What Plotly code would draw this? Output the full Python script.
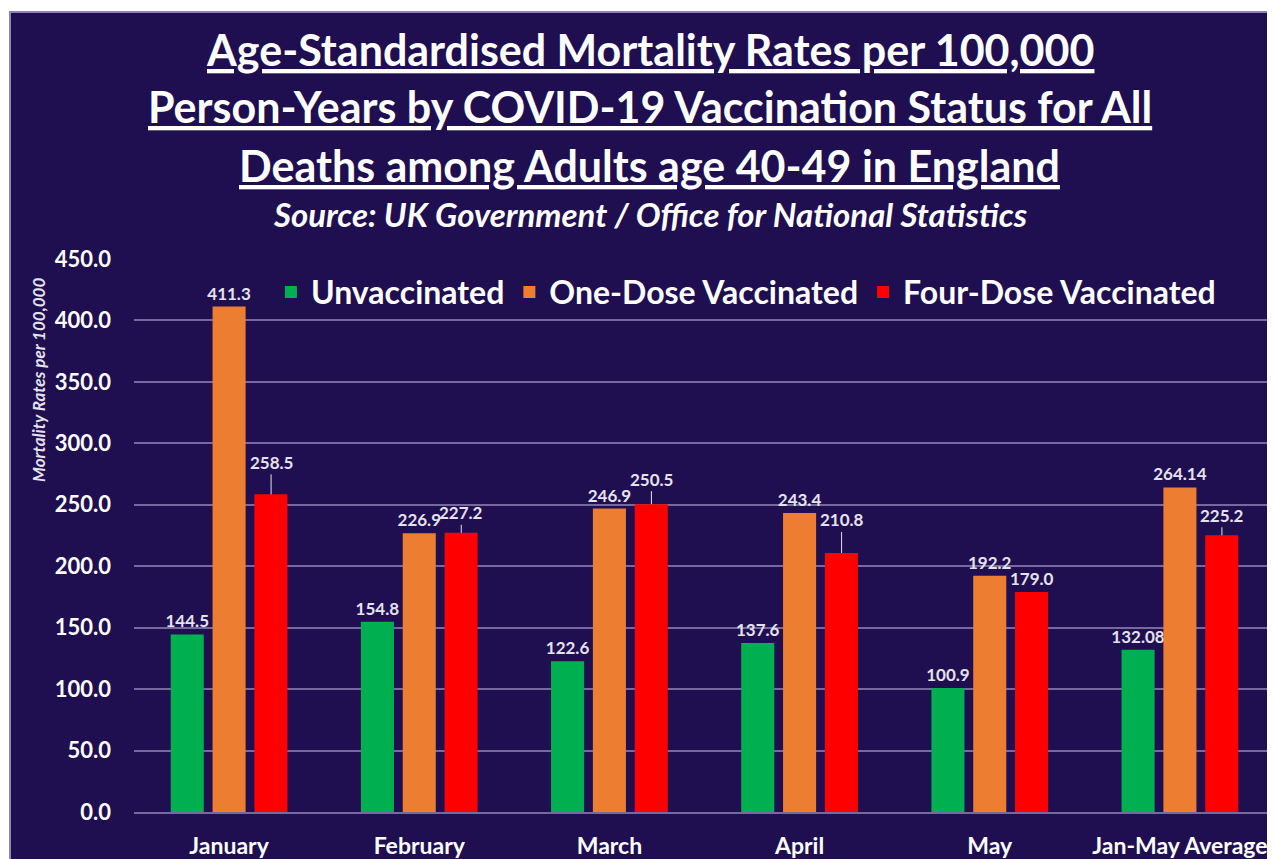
import plotly.graph_objects as go

months = ["January", "February", "March", "April", "May", "Jan-May Average"]
unvaccinated = [144.5, 154.8, 122.6, 137.6, 100.9, 132.08]
one_dose = [411.3, 226.9, 246.9, 243.4, 192.2, 264.14]
four_dose = [258.5, 227.2, 250.5, 210.8, 179.0, 225.2]

BG = "#200f50"
GRID = "rgba(190,180,220,0.55)"
LABEL = "#e4e2ee"
FONT = "Lato"


def fmt(v):
    # two decimals only where the source had them
    return f"{v:.2f}" if round(v, 1) != v else f"{v:.1f}"


fig = go.Figure()
for name, vals, col, show_text in [
    ("Unvaccinated", unvaccinated, "#00b050", True),
    ("One-Dose Vaccinated", one_dose, "#ed7d31", True),
    ("Four-Dose Vaccinated", four_dose, "#ff0000", False),
]:
    fig.add_trace(go.Bar(
        x=months, y=vals, name=name, marker_color=col, marker_line_width=0,
        text=[fmt(v) for v in vals] if show_text else None,
        textposition="outside", cliponaxis=False, constraintext="none",
        textfont=dict(family=FONT, size=17, color=LABEL, weight="bold"),
    ))

# red labels sit a bit higher with small leader lines
red_lift = [32, 20, 25, 33, 14, 20]
for m, v, lift in zip(months, four_dose, red_lift):
    fig.add_annotation(x=m, y=v, xref="x", yref="y", text=fmt(v), xshift=42,
                       showarrow=lift > 16, arrowhead=0, arrowwidth=1, arrowcolor=LABEL,
                       ax=0, ay=-lift, standoff=0,
                       yshift=0 if lift > 16 else lift,
                       font=dict(family=FONT, size=17, color=LABEL, weight="bold"))

titles = ["Age-Standardised Mortality Rates per 100,000",
          "Person-Years by COVID-19 Vaccination Status for All",
          "Deaths among Adults age 40-49 in England"]
for i, t in enumerate(titles):
    fig.add_annotation(text=t, xref="paper", yref="paper", x=0.452, y=(812 - 49 - 58 * i) / 553,
                       showarrow=False, xanchor="center", yanchor="middle",
                       font=dict(family=FONT, size=43, color="white", weight="bold", lineposition="under"))
fig.add_annotation(text="<i>Source: UK Government / Office for National Statistics</i>",
                   xref="paper", yref="paper", x=0.452, y=(812 - 214) / 553,
                   showarrow=False, xanchor="center", yanchor="middle",
                   font=dict(family=FONT, size=33, color="white", weight="bold"))
fig.add_annotation(text="<i>Mortality Rates per 100,000</i>", textangle=-90,
                   xref="paper", yref="paper", x=(38 - 134) / 1141, y=(812 - 380) / 553,
                   showarrow=False, xanchor="center", yanchor="middle",
                   font=dict(family=FONT, size=17, color=LABEL, weight="bold"))

# navy panel with thin lavender edge, leaving white strips at top and left
fig.add_shape(type="rect", xref="paper", yref="paper", layer="below",
              x0=(10 - 134) / 1141, x1=1.02, y0=-0.2, y1=(812 - 12) / 553,
              fillcolor=BG, line=dict(color="#8e84b8", width=2))

# page body keeps an 8px margin, so the figure is 8px smaller to fit the window
fig.update_layout(
    width=1267, height=851,
    margin=dict(l=126, r=0, t=251, b=47),
    paper_bgcolor="white", plot_bgcolor="rgba(0,0,0,0)",
    barmode="group", bargap=0.34, bargroupgap=0.21,
    showlegend=True,
    legend=dict(orientation="h", x=0.12, y=0.94, xanchor="left", yanchor="middle",
                bgcolor="rgba(0,0,0,0)", font=dict(family=FONT, size=32, color="white", weight="bold"),
                itemwidth=30, tracegroupgap=0),
    font=dict(family=FONT, color="white"),
)
fig.update_yaxes(range=[0, 450], dtick=50, tickformat=".1f", showgrid=True, gridcolor=GRID, gridwidth=2,
                 zeroline=False, showline=False, ticklabelstandoff=22,
                 tickfont=dict(family=FONT, size=22, color="white", weight="bold"))
fig.update_xaxes(showline=True, linecolor=GRID, linewidth=2, ticks="", ticklabelstandoff=12,
                 tickfont=dict(family=FONT, size=23, color="white", weight="bold"))

fig.write_html("out.html")
